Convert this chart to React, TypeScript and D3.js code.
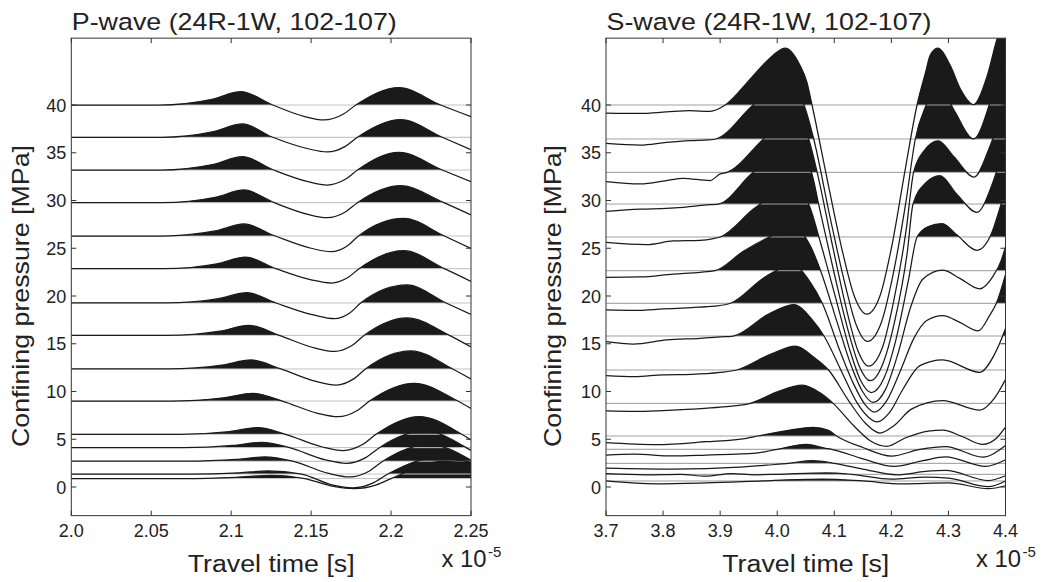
import React from "react";
import * as d3 from "d3";

type Pt = [number, number];

// ---------- DATA ----------
// Confining pressure (trace baselines, MPa)
const pPressures = [40.0, 36.62, 33.19, 29.77, 26.28, 22.86, 19.27, 15.88, 12.36, 9.0, 5.52, 4.12, 2.7, 1.36, 0.88];
const sPressures = [40.0, 36.44, 32.95, 29.63, 26.18, 22.65, 19.24, 15.81, 12.25, 8.76, 5.34, 3.95, 2.48, 1.33, 0.63];

// P-wave traces: [travel time (x1e-5 s), amplitude (MPa units)]
const pTraces: Pt[][] = [
  [[2.0, 0], [2.055, 0], [2.088, 0.6], [2.106, 1.4], [2.126, 0], [2.146, -1.22], [2.158, -1.57], [2.17, -0.97], [2.178, 0], [2.205, 1.82], [2.231, 0], [2.25, -1.22]],
  [[2.0, 0], [2.056, 0], [2.089, 0.6], [2.107, 1.4], [2.126, 0], [2.148, -1.2], [2.16, -1.54], [2.1714, -0.95], [2.179, 0], [2.206, 1.85], [2.232, 0], [2.25, -1.29]],
  [[2.0, 0], [2.056, 0], [2.089, 0.6], [2.107, 1.4], [2.1265, 0], [2.148, -1.22], [2.16, -1.57], [2.1714, -0.97], [2.179, 0], [2.205, 1.85], [2.232, 0], [2.25, -1.22]],
  [[2.0, 0], [2.057, 0], [2.09, 0.56], [2.108, 1.33], [2.127, 0], [2.148, -1.22], [2.16, -1.57], [2.1714, -0.97], [2.179, 0], [2.206, 1.78], [2.233, 0], [2.25, -1.29]],
  [[2.0, 0], [2.057, 0], [2.09, 0.53], [2.108, 1.26], [2.1275, 0], [2.15, -1.28], [2.1625, -1.64], [2.1728, -1.02], [2.1796, 0], [2.208, 1.85], [2.2333, 0], [2.25, -1.29]],
  [[2.0, 0], [2.058, 0], [2.091, 0.51], [2.109, 1.22], [2.128, 0], [2.15, -1.17], [2.1625, -1.5], [2.173, -0.93], [2.18, 0], [2.208, 1.89], [2.2333, 0], [2.25, -1.33]],
  [[2.0, 0], [2.059, 0], [2.092, 0.45], [2.11, 1.08], [2.128, 0], [2.152, -1.28], [2.1646, -1.64], [2.1744, -1.02], [2.181, 0], [2.21, 1.89], [2.2344, 0], [2.25, -1.19]],
  [[2.0, 0], [2.06, 0], [2.093, 0.44], [2.111, 1.05], [2.13, 0], [2.152, -1.31], [2.1646, -1.68], [2.1758, -1.04], [2.1833, 0], [2.21, 1.82], [2.2365, 0], [2.25, -1.22]],
  [[2.0, 0], [2.061, 0], [2.094, 0.39], [2.1125, 0.94], [2.131, 0], [2.153, -1.31], [2.1656, -1.68], [2.1766, -1.04], [2.184, 0], [2.2125, 1.89], [2.2385, 0], [2.25, -1.05]],
  [[2.0, 0], [2.062, 0], [2.095, 0.34], [2.1135, 0.81], [2.132, 0], [2.154, -1.28], [2.1667, -1.64], [2.1786, -1.02], [2.1865, 0], [2.2146, 1.86], [2.2417, 0], [2.25, -0.77]],
  [[2.0, 0], [2.068, 0], [2.099, 0.29], [2.1167, 0.7], [2.134, 0], [2.157, -1.33], [2.17, -1.7], [2.1824, -1.05], [2.1906, 0], [2.2177, 1.86], [2.2442, 0], [2.25, -0.6]],
  [[2.0, 0], [2.07, 0], [2.101, 0.23], [2.119, 0.56], [2.1365, 0], [2.159, -1.28], [2.172, -1.64], [2.1844, -1.02], [2.1927, 0], [2.221, 1.75], [2.247, 0], [2.25, -0.3]],
  [[2.0, 0], [2.072, 0], [2.103, 0.19], [2.121, 0.45], [2.1385, 0], [2.161, -1.28], [2.174, -1.64], [2.1865, -1.02], [2.1948, 0], [2.224, 1.75], [2.25, 0.1]],
  [[2.0, 0], [2.074, 0], [2.105, 0.13], [2.123, 0.32], [2.144, 0], [2.163, -1.13], [2.176, -1.45], [2.1892, -0.9], [2.198, 0], [2.228, 1.7], [2.25, 1.25]],
  [[2.0, 0], [2.07, 0], [2.103, 0.14], [2.125, 0.35], [2.146, 0], [2.164, -0.82], [2.177, -1.05], [2.1908, -0.65], [2.2, 0], [2.232, 1.8], [2.25, 1.6]],
];

// S-wave traces: [travel time (x1e-5 s), amplitude (MPa units)]
const sTraces: Pt[][] = [
  [[3.7, -0.84], [3.76, -0.88], [3.806, -0.73], [3.847, -0.6], [3.882, -0.66], [3.909, 0], [3.953, 2.73], [3.982, 4.6], [4.014, 5.95], [4.04, 4.13], [4.052, 2.38], [4.061, 0], [4.09, -8.5], [4.115, -15.5], [4.135, -20], [4.157, -21.9], [4.18, -20], [4.2, -15], [4.225, -6.5], [4.245, 0], [4.26, 3.43], [4.268, 5.2], [4.281, 5.95], [4.3035, 4.1], [4.321, 1.68], [4.344, 0.05], [4.368, 3.08], [4.385, 6.9], [4.4, 9.5]],
  [[3.7, -0.45], [3.76, -0.63], [3.806, -0.35], [3.847, -0.17], [3.88, -0.1], [3.893, 0], [3.958, 3.57], [3.99, 5.0], [4.022, 5.8], [4.047, 3.57], [4.064, 0], [4.093, -8.3], [4.118, -15], [4.138, -19.4], [4.158, -21.2], [4.182, -19.3], [4.202, -14.5], [4.226, -6.4], [4.242, 0], [4.26, 3.4], [4.284, 5.5], [4.31, 3.0], [4.344, 0.0], [4.37, 3.3], [4.385, 6.5], [4.4, 9.0]],
  [[3.7, -0.98], [3.76, -1.22], [3.806, -0.87], [3.835, -0.63], [3.882, -0.87], [3.9, -0.17], [3.912, 0], [3.976, 3.5], [4.0, 4.8], [4.03, 5.6], [4.055, 3.5], [4.07, 0], [4.098, -8], [4.122, -14.5], [4.141, -18.6], [4.16, -20.3], [4.184, -18.4], [4.203, -13.8], [4.226, -6], [4.239, 0], [4.258, 2.3], [4.282, 3.3], [4.31, 1.6], [4.345, -0.5], [4.37, 2.3], [4.388, 5.3], [4.4, 7.5]],
  [[3.7, -0.77], [3.76, -0.53], [3.806, -0.46], [3.835, -0.35], [3.882, -0.07], [3.897, 0], [3.958, 3.32], [3.995, 4.8], [4.035, 5.3], [4.06, 3.3], [4.0725, 0], [4.1, -7.3], [4.125, -13.4], [4.144, -17], [4.163, -18.5], [4.186, -16.6], [4.205, -12.5], [4.228, -5], [4.238, 0], [4.26, 2.2], [4.285, 2.97], [4.315, 1.0], [4.35, -0.87], [4.375, 1.8], [4.39, 4.5], [4.4, 6.5]],
  [[3.7, -0.57], [3.771, -0.8], [3.818, -0.42], [3.865, -0.35], [3.888, -0.17], [3.9, 0], [3.96, 3.0], [3.995, 4.4], [4.033, 5.0], [4.058, 3.0], [4.073, 0], [4.103, -6.5], [4.127, -11.8], [4.146, -15], [4.165, -16.3], [4.187, -14.8], [4.207, -11], [4.23, -4.5], [4.245, 0], [4.265, 1.1], [4.289, 1.4], [4.315, 0.2], [4.35, -1.4], [4.375, 0.3], [4.39, 3.0], [4.4, 5.0]],
  [[3.7, -0.7], [3.76, -0.66], [3.818, -0.35], [3.865, -0.17], [3.891, 0], [3.94, 2.0], [3.982, 3.4], [4.03, 4.5], [4.058, 2.6], [4.076, 0], [4.106, -5.6], [4.13, -10], [4.15, -12.7], [4.168, -13.8], [4.19, -12.4], [4.21, -9], [4.235, -3.6], [4.255, -0.9], [4.29, 0.05], [4.32, -0.8], [4.355, -1.9], [4.378, -0.6], [4.392, 1.0], [4.4, 2.5]],
  [[3.7, -0.7], [3.75, -0.75], [3.8, -0.6], [3.85, -0.45], [3.89, -0.3], [3.918, 0], [3.98, 2.8], [4.027, 4.0], [4.058, 2.2], [4.079, 0], [4.11, -5], [4.135, -8.6], [4.155, -10.7], [4.17, -11.4], [4.192, -10.2], [4.215, -7.2], [4.24, -3.6], [4.262, -1.8], [4.29, -1.3], [4.32, -2.0], [4.352, -2.9], [4.372, -1.3], [4.384, 0], [4.4, 3.0]],
  [[3.7, -0.6], [3.748, -0.84], [3.806, -0.4], [3.865, -0.25], [3.9, -0.1], [3.923, 0], [3.985, 2.3], [4.029, 3.3], [4.06, 1.8], [4.082, 0], [4.115, -4], [4.14, -7], [4.16, -8.5], [4.175, -9.0], [4.197, -8.0], [4.22, -5.6], [4.25, -3.1], [4.29, -2.5], [4.355, -3.8], [4.38, -2.0], [4.395, 0], [4.4, 0.8]],
  [[3.7, -0.6], [3.75, -0.7], [3.8, -0.5], [3.85, -0.45], [3.9, -0.25], [3.929, 0], [3.99, 1.7], [4.032, 2.5], [4.065, 1.3], [4.09, 0], [4.125, -3.2], [4.155, -5.6], [4.18, -6.6], [4.205, -5.8], [4.235, -4.1], [4.29, -3.2], [4.355, -4.2], [4.38, -3.0], [4.4, -1.0]],
  [[3.7, -0.8], [3.75, -0.85], [3.8, -0.75], [3.85, -0.6], [3.9, -0.4], [3.953, 0], [4.0, 1.2], [4.044, 1.9], [4.075, 1.1], [4.098, 0], [4.135, -2.4], [4.165, -4.0], [4.192, -4.5], [4.225, -3.6], [4.265, -2.9], [4.29, -2.8], [4.325, -3.5], [4.36, -4.3], [4.385, -3.6], [4.4, -2.5]],
  [[3.7, -0.7], [3.788, -0.9], [3.875, -0.6], [3.946, -0.24], [3.966, 0], [4.02, 0.6], [4.063, 0.91], [4.09, 0.6], [4.104, 0], [4.15, -1.2], [4.2, -2.1], [4.25, -1.4], [4.295, -1.1], [4.36, -2.2], [4.4, -1.0]],
  [[3.7, -0.6], [3.75, -0.5], [3.817, -0.7], [3.875, -0.6], [3.963, -0.4], [4.0, 0], [4.051, 0.52], [4.085, 0.1], [4.095, 0], [4.15, -1.0], [4.205, -1.8], [4.255, -1.2], [4.295, -0.8], [4.365, -1.8], [4.4, -1.1]],
  [[3.7, -0.5], [3.817, -0.6], [3.934, -0.4], [3.99, -0.15], [4.02, 0], [4.062, 0.27], [4.1, 0], [4.15, -0.6], [4.21, -1.2], [4.26, -0.85], [4.295, -0.75], [4.37, -1.8], [4.4, -1.3]],
  [[3.7, 0.07], [3.77, -0.05], [3.83, 0.0], [3.875, -0.2], [3.92, 0.07], [3.96, -0.05], [4.0, 0], [4.086, 0.14], [4.13, 0], [4.2, -0.5], [4.26, -0.3], [4.3, -0.4], [4.37, -1.3], [4.4, -0.7]],
  [[3.7, 0.0], [3.788, -0.3], [3.875, -0.2], [3.99, 0.05], [4.08, 0.2], [4.15, 0.0], [4.22, -0.3], [4.3, -0.2], [4.37, -0.8], [4.4, -0.5]],
];

const pXTicks = [2.0, 2.05, 2.1, 2.15, 2.2, 2.25];
const pXTickLabels = ["2.0", "2.05", "2.1", "2.15", "2.2", "2.25"];
const sXTicks = [3.7, 3.8, 3.9, 4.0, 4.1, 4.2, 4.3, 4.4];
const sXTickLabels = ["3.7", "3.8", "3.9", "4.0", "4.1", "4.2", "4.3", "4.4"];
const yTicks = [0, 5, 10, 15, 20, 25, 30, 35, 40];
const yTickLabels = ["0", "5", "10", "15", "20", "25", "30", "35", "40"];
const pXDomain: [number, number] = [2.0, 2.25];
const sXDomain: [number, number] = [3.7, 4.4];
const yDomain: [number, number] = [-3, 47];

const FONT = "'Liberation Sans', Arial, Helvetica, sans-serif";
const AXIS = "#333";
const INK = "#1b1a1a";

interface PanelProps {
  id: string;
  x0: number;
  x1: number;
  xDomain: [number, number];
  xTicks: number[];
  xTickLabels: string[];
  pressures: number[];
  traces: Pt[][];
  title: string;
  baseColor: string;
  ylabelX: number;
}

function Panel(p: PanelProps) {
  const x = d3.scaleLinear().domain(p.xDomain).range([p.x0, p.x1]);
  const y = d3.scaleLinear().domain(yDomain).range([515.65, 38.15]);
  const top = y(yDomain[1]);
  const bottom = y(yDomain[0]);
  const w = p.x1 - p.x0;
  const tl = 5;

  const items = p.traces.map((tr, i) => {
    const b = p.pressures[i];
    const area = d3
      .area<Pt>()
      .x((d) => x(d[0]))
      .y0(y(b))
      .y1((d) => y(b + d[1]))
      .curve(d3.curveMonotoneX);
    const line = d3
      .line<Pt>()
      .x((d) => x(d[0]))
      .y((d) => y(b + d[1]))
      .curve(d3.curveMonotoneX);
    return { b, a: area(tr) || "", l: line(tr) || "" };
  });

  return (
    <g>
      <defs>
        <clipPath id={`${p.id}-plot`}>
          <rect x={p.x0} y={top} width={w} height={bottom - top} />
        </clipPath>
        {items.map((it, i) => (
          <clipPath id={`${p.id}-c${i}`} key={i}>
            <rect x={p.x0} y={top} width={w} height={Math.max(0, y(it.b) - top)} />
          </clipPath>
        ))}
      </defs>
      <g clipPath={`url(#${p.id}-plot)`}>
        {items.map((it, i) => (
          <g clipPath={`url(#${p.id}-c${i})`} key={"f" + i}>
            <path d={it.a} fill={INK} stroke="none" />
          </g>
        ))}
        {items.map((it, i) => (
          <line key={"b" + i} x1={p.x0} x2={p.x1} y1={y(it.b)} y2={y(it.b)} stroke={p.baseColor} strokeWidth={1} />
        ))}
        {items.map((it, i) => (
          <path key={"l" + i} d={it.l} fill="none" stroke={INK} strokeWidth={1.25} />
        ))}
      </g>
      {/* box */}
      <rect x={p.x0} y={top} width={w} height={bottom - top} fill="none" stroke={AXIS} strokeWidth={1} />
      {/* x ticks */}
      {p.xTicks.map((t, i) => (
        <g key={"xt" + i}>
          <line x1={x(t)} x2={x(t)} y1={bottom} y2={bottom - tl} stroke={AXIS} />
          <line x1={x(t)} x2={x(t)} y1={top} y2={top + tl} stroke={AXIS} />
          <text x={x(t)} y={537} textAnchor="middle" fontSize={18} fontFamily={FONT} fill="#222">
            {p.xTickLabels[i]}
          </text>
        </g>
      ))}
      {/* y ticks */}
      {yTicks.map((t, i) => (
        <g key={"yt" + i}>
          <line x1={p.x0} x2={p.x0 + tl} y1={y(t)} y2={y(t)} stroke={AXIS} />
          <line x1={p.x1} x2={p.x1 - tl} y1={y(t)} y2={y(t)} stroke={AXIS} />
          <text x={p.x0 - 5} y={y(t) + 6.5} textAnchor="end" fontSize={18} fontFamily={FONT} fill="#222">
            {yTickLabels[i]}
          </text>
        </g>
      ))}
      {/* title */}
      <text x={p.x0 + 0.5} y={29.5} fontSize={24.5} fontFamily={FONT} fill="#222" textLength={325} lengthAdjust="spacingAndGlyphs">
        {p.title}
      </text>
      {/* x label */}
      <text x={(p.x0 + p.x1) / 2} y={572} textAnchor="middle" fontSize={23.5} fontFamily={FONT} fill="#222" textLength={167} lengthAdjust="spacingAndGlyphs">
        Travel time [s]
      </text>
      <text x={p.x1 - 29.5} y={567} fontSize={23} fontFamily={FONT} fill="#222" textLength={45} lengthAdjust="spacingAndGlyphs">
        x 10
      </text>
      <text x={p.x1 + 17} y={556.5} fontSize={15} fontFamily={FONT} fill="#222">
        -5
      </text>
      {/* y label */}
      <text
        transform={`translate(${p.ylabelX},296) rotate(-90)`}
        textAnchor="middle"
        fontSize={24}
        fontFamily={FONT}
        fill="#222"
        textLength={302}
        lengthAdjust="spacingAndGlyphs"
      >
        Confining pressure [MPa]
      </text>
    </g>
  );
}

export default function App() {
  return (
    <svg
      width={1042}
      height={582}
      viewBox="0 0 1042 582"
      style={{ position: "absolute", left: 0, top: 0, background: "#fff" }}
    >
      <rect x={0} y={0} width={1042} height={582} fill="#fff" />
      <Panel
        id="pw"
        x0={71.3}
        x1={471}
        xDomain={pXDomain}
        xTicks={pXTicks}
        xTickLabels={pXTickLabels}
        pressures={pPressures}
        traces={pTraces}
        title="P-wave (24R-1W, 102-107)"
        baseColor="#c4c4c4"
        ylabelX={29}
      />
      <Panel
        id="sw"
        x0={606}
        x1={1005.5}
        xDomain={sXDomain}
        xTicks={sXTicks}
        xTickLabels={sXTickLabels}
        pressures={sPressures}
        traces={sTraces}
        title="S-wave (24R-1W, 102-107)"
        baseColor="#a0a0a0"
        ylabelX={561}
      />
    </svg>
  );
}
